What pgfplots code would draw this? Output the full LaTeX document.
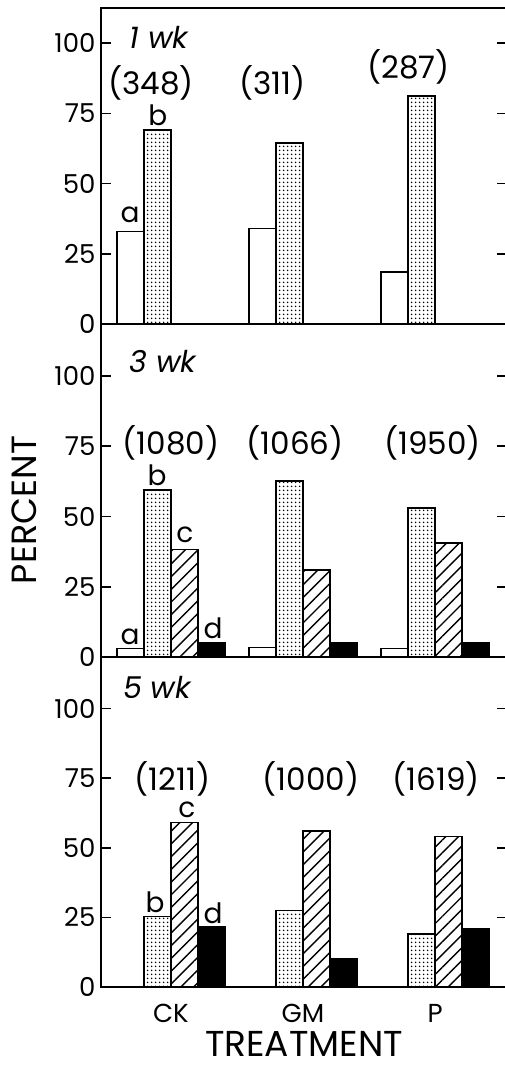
\documentclass[border=0pt]{standalone}
\usepackage{fontspec}
\setmainfont{Poppins}
\usepackage{pgfplots}
\pgfplotsset{compat=1.18}
\usetikzlibrary{patterns.meta}

\newcommand{\fs}[1]{\fontsize{#1}{#1}\selectfont}

\pgfplotsset{
  panel/.style={
    scale only axis, width=406pt, anchor=south west,
    xmin=-0.53, xmax=2.545, ymin=0,
    xtick={0,1,2}, xticklabels={},
    xtick style={draw=none},
    ytick={0,25,50,75,100}, ytick pos=both, yticklabel pos=left,
    tick align=inside, major tick length=10pt,
    every tick/.style={black, line width=1.6pt},
    axis line style={line width=1.8pt},
    yticklabel style={font=\fs{26}, xshift=-2pt},
    /pgf/number format/assume math mode=true,
    clip=false,
  },
  bars/.style={ybar, bar width=0.205, draw=black, line width=1.5pt},
  sa/.style={bars, fill=white, bar shift=-0.3075},
  sb/.style={bars, pattern={Dots[distance=4pt,radius=1pt]}, bar shift=-0.1025},
  sc/.style={bars, pattern={Lines[angle=45,distance=9pt,line width=1.4pt]}, bar shift=0.1025},
  sd/.style={bars, fill=black, bar shift=0.3075},
}
\tikzset{
  wk/.style={font=\fs{30}\itshape, anchor=west},
  cnt/.style={font=\fs{31}},
  lab/.style={font=\fs{28}},
}

\begin{document}
\begin{tikzpicture}
\useasboundingbox (0pt,0pt) rectangle (505pt,-1066pt);

% 1 wk
\begin{axis}[panel, at={(101pt,-324pt)}, height=316pt, ymax=112.5]
\addplot[sa] coordinates {(0,33) (1,34) (2,18.6)};
\addplot[sb] coordinates {(0,69) (1,64.5) (2,81.1)};
\node[wk] at (axis cs:-0.34,102) {1 wk};
\node[cnt] at (axis cs:-0.15,85.8) {(348)};
\node[cnt] at (axis cs:0.77,85.8) {(311)};
\node[cnt] at (axis cs:1.80,91.5) {(287)};
\node[lab] at (axis cs:-0.31,38.8) {a};
\node[lab] at (axis cs:-0.10,74.4) {b};
\end{axis}

% 3 wk
\begin{axis}[panel, at={(101pt,-657pt)}, height=333pt, ymax=118.5]
\addplot[sa] coordinates {(0,3.1) (1,3.4) (2,3.1)};
\addplot[sb] coordinates {(0,59.4) (1,62.7) (2,53.1)};
\addplot[sc] coordinates {(0,38.3) (1,31) (2,40.5)};
\addplot[sd] coordinates {(0,5.1) (1,4.9) (2,5.1)};
\node[wk] at (axis cs:-0.34,105) {3 wk};
\node[cnt] at (axis cs:0,76.2) {(1080)};
\node[cnt] at (axis cs:0.94,76.2) {(1066)};
\node[cnt] at (axis cs:1.98,76.2) {(1950)};
\node[lab] at (axis cs:-0.31,7.1) {a};
\node[lab] at (axis cs:-0.106,64.8) {b};
\node[lab] at (axis cs:0.106,43.4) {c};
\node[lab] at (axis cs:0.318,10.3) {d};
\end{axis}

% 5 wk
\begin{axis}[panel, at={(101pt,-987pt)}, height=330pt, ymax=118.5,
  xticklabels={CK,GM,P}, xticklabel style={font=\fs{26}, yshift=-14pt}]
\addplot[sb] coordinates {(0,25.3) (1,27.4) (2,19.1)};
\addplot[sc] coordinates {(0,59) (1,56.1) (2,54.1)};
\addplot[sd] coordinates {(0,21.8) (1,10.3) (2,21.1)};
\node[wk] at (axis cs:-0.39,107.7) {5 wk};
\node[cnt] at (axis cs:0.01,74.8) {(1211)};
\node[cnt] at (axis cs:1.06,74.8) {(1000)};
\node[cnt] at (axis cs:2.01,74.8) {(1619)};
\node[lab] at (axis cs:-0.12,30.5) {b};
\node[lab] at (axis cs:0.12,63.8) {c};
\node[lab] at (axis cs:0.318,26.6) {d};
\end{axis}

\node[font=\fs{35}, rotate=90] at (24pt,-510pt) {PERCENT};
\node[font=\fs{36}, anchor=base, inner sep=1pt] at (304pt,-1056pt) {TREATMENT};
\end{tikzpicture}
\end{document}
